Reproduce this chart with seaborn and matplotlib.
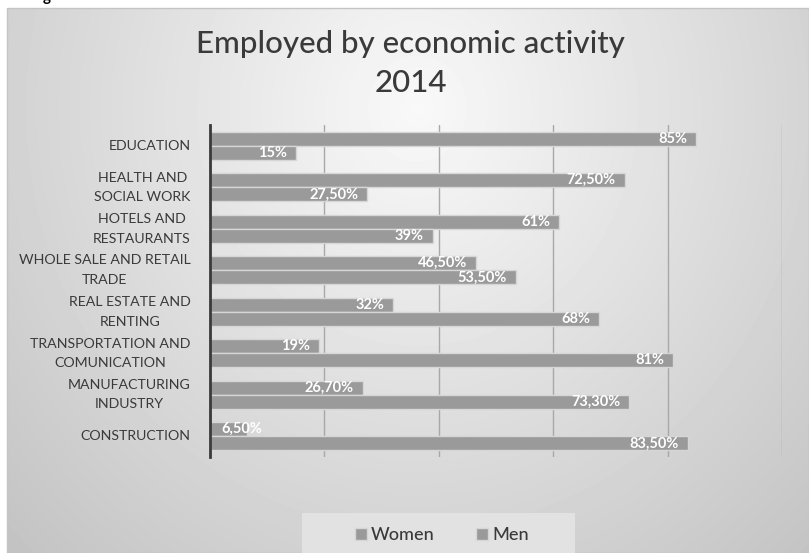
import numpy as np
import pandas as pd
import matplotlib
matplotlib.use("Agg")
import matplotlib.pyplot as plt
from matplotlib.patches import Rectangle
import seaborn as sns

# ---- data -------------------------------------------------------------
categories = [
    "EDUCATION",
    "HEALTH AND\nSOCIAL WORK",
    "HOTELS AND\nRESTAURANTS",
    "WHOLE SALE AND RETAIL\nTRADE",
    "REAL ESTATE AND\nRENTING",
    "TRANSPORTATION AND\nCOMUNICATION",
    "MANUFACTURING\nINDUSTRY",
    "CONSTRUCTION",
]
women = [85, 72.5, 61, 46.5, 32, 19, 26.7, 6.5]
men = [15, 27.5, 39, 53.5, 68, 81, 73.3, 83.5]
series = ["Women", "Men"]
grid_ticks = [0, 20, 40, 60, 80, 100]

title_line1 = "Employed by economic activity"
title_line2 = "2014"


def pct_label(v):
    if float(v).is_integer():
        return f"{int(v)}%"
    return f"{v:.2f}".replace(".", ",") + "%"


df = pd.DataFrame({
    "category": categories * 2,
    "value": women + men,
    "series": [series[0]] * len(categories) + [series[1]] * len(categories),
})

# ---- style ------------------------------------------------------------
sns.set_style("white")
plt.rcParams["font.family"] = ["Lato", "DejaVu Sans"]
TEXT = "#3a3a3a"
BAR = "#9a9a9a"

W, H = 809, 553
fig = plt.figure(figsize=(W / 100, H / 100), dpi=100)
fig.patch.set_facecolor("white")

# soft radial-gradient panel behind the chart
px0, py0 = 7, 8
pw, ph = W - px0, H - py0
bg = fig.add_axes([px0 / W, 0, pw / W, ph / H], zorder=0)
yy, xx = np.mgrid[0:ph, 0:pw]
r = np.sqrt(((xx - 410) / 520.0) ** 2 + ((yy - 100) / 560.0) ** 2)
shade = np.clip(0.975 - 0.19 * r, 0, 1)
bg.imshow(shade, cmap="gray", vmin=0, vmax=1, aspect="auto",
          extent=[0, pw, ph, 0], interpolation="bilinear")
bg.set_axis_off()
fig.add_artist(Rectangle((px0 / W, 0), pw / W, ph / H, transform=fig.transFigure,
                         fill=False, edgecolor="#c4c4c4", linewidth=1, zorder=1))

# ---- bars ---------------------------------------------------------------
ax = fig.add_axes([210 / W, 1 - 457 / H, 572 / W, 332 / H], zorder=2)
ax.patch.set_alpha(0)
sns.barplot(data=df, y="category", x="value", hue="series", hue_order=series,
            order=categories, orient="h", palette=[BAR, BAR], saturation=1,
            width=0.68, edgecolor="#d6d6d6", linewidth=1, ax=ax)

ax.set_xlim(0, 100)
ax.set_xticks(grid_ticks)
ax.xaxis.grid(True, color="#a8a8a8", linewidth=1)
ax.set_axisbelow(True)
ax.tick_params(axis="x", length=0, labelbottom=False)
ax.tick_params(axis="y", length=0, pad=14, labelsize=10.2, labelcolor=TEXT)
for lab in ax.get_yticklabels():
    lab.set_multialignment("center")
    lab.set_linespacing(1.75)
    lab.set_verticalalignment("center")
ax.set_xlabel("")
ax.set_ylabel("")
for side in ("top", "right", "bottom"):
    ax.spines[side].set_visible(False)
ax.spines["left"].set_color("#3a3a3a")
ax.spines["left"].set_linewidth(2)
ax.spines["left"].set_zorder(5)

# value labels inside the bar ends
for container, values in zip(ax.containers, [women, men]):
    for bar, v in zip(container, values):
        yc = bar.get_y() + bar.get_height() / 2
        if v >= 10:
            ax.annotate(pct_label(v), xy=(v, yc), xytext=(-6.5, 0),
                        textcoords="offset points", ha="right", va="center",
                        color="white", fontsize=10.5, fontweight="bold", zorder=6)
        else:
            ax.annotate(pct_label(v), xy=(0, yc), xytext=(8, 0),
                        textcoords="offset points", ha="left", va="center",
                        color="white", fontsize=10.5, fontweight="bold", zorder=6)

# ---- legend -------------------------------------------------------------
handles, labels = ax.get_legend_handles_labels()
ax.get_legend().remove()
fig.add_artist(Rectangle((302 / W, 0), 273 / W, 40 / H, transform=fig.transFigure,
                         facecolor="#e2e2e2", edgecolor="none", zorder=1.5))
leg = fig.legend(handles, labels, loc="center", bbox_to_anchor=(442 / W, 1 - 535 / H),
                 ncol=2, frameon=False, fontsize=13, handlelength=0.65,
                 handleheight=0.65, handletextpad=0.25, columnspacing=2.3,
                 labelcolor=TEXT, prop={"weight": "medium", "size": 13})
leg.set_zorder(3)

# ---- titles -------------------------------------------------------------
fig.text(410 / W, 1 - 53 / H, title_line1, ha="center", va="baseline",
         fontsize=22.5, fontweight="medium", color=TEXT, zorder=3)
fig.text(411 / W, 1 - 92 / H, title_line2, ha="center", va="baseline",
         fontsize=22.5, fontweight="medium", color=TEXT, zorder=3)
fig.text(43 / W, 1 - 1 / H, "g", ha="left", va="baseline", fontsize=11,
         fontweight="bold", color="black", zorder=3)

fig.savefig("out.png", dpi=100)
